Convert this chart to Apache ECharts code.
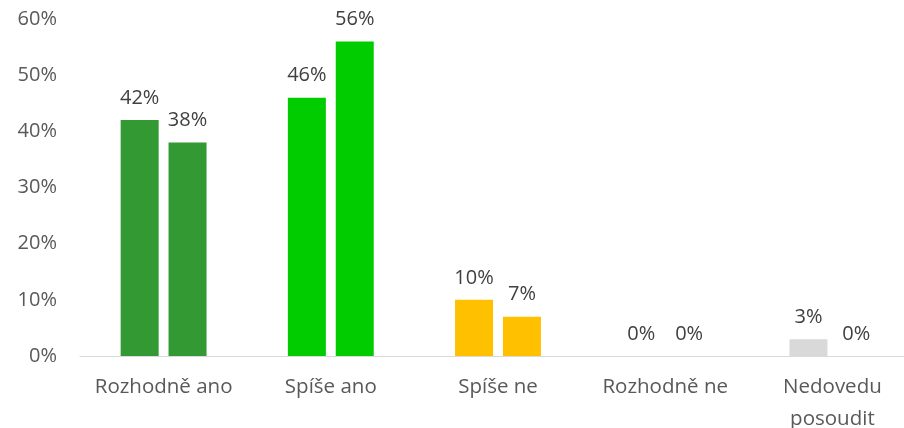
<!DOCTYPE html>
<html>
<head>
<meta charset="utf-8">
<script src="https://cdn.jsdelivr.net/npm/echarts@6/dist/echarts.min.js"></script>
<style>
  html, body { margin: 0; padding: 0; background: #fff; }
  #chart { width: 904px; height: 428px; }
</style>
</head>
<body>
<div id="chart"></div>
<script>
// kategorie a hodnoty (v %)
const categories = ["Rozhodně ano", "Spíše ano", "Spíše ne", "Rozhodně ne", "Nedovedu\nposoudit"];
const seriesA = [42, 46, 10, 0, 3];
const seriesB = [38, 56, 7, 0, 0];
const catColors = ["#339933", "#00CC00", "#FFC000", "#A5A5A5", "#D9D9D9"];

const font = "'Open Sans', 'Liberation Sans', sans-serif";

function withColors(values) {
  return values.map((v, i) => ({ value: v, itemStyle: { color: catColors[i] } }));
}

const chart = echarts.init(document.getElementById("chart"));
const labelOpt = {
  show: true,
  position: "top",
  distance: 12,
  formatter: "{c}%",
  color: "#404040",
  fontSize: 20,
  fontFamily: font,
};

chart.setOption({
  animation: false,
  grid: { left: 80, right: -12, top: 19, bottom: 72, outerBoundsMode: "none", containLabel: false },
  xAxis: {
    type: "category",
    data: categories,
    axisLine: { lineStyle: { color: "#D9D9D9", width: 1 } },
    axisTick: { show: false },
    axisLabel: {
      color: "#595959",
      fontSize: 20.5,
      fontFamily: font,
      margin: 15,
      lineHeight: 32,
      interval: 0,
    },
  },
  yAxis: {
    type: "value",
    min: 0,
    max: 60,
    interval: 10,
    splitLine: { show: false },
    axisLine: { show: false },
    axisTick: { show: false },
    axisLabel: {
      formatter: "{value}%",
      color: "#595959",
      fontSize: 20,
      fontFamily: font,
      margin: 23,
    },
  },
  series: [
    { type: "bar", data: withColors(seriesA), barWidth: 38, barGap: "26%", label: labelOpt },
    { type: "bar", data: withColors(seriesB), barWidth: 38, label: labelOpt },
  ],
});
</script>
</body>
</html>
